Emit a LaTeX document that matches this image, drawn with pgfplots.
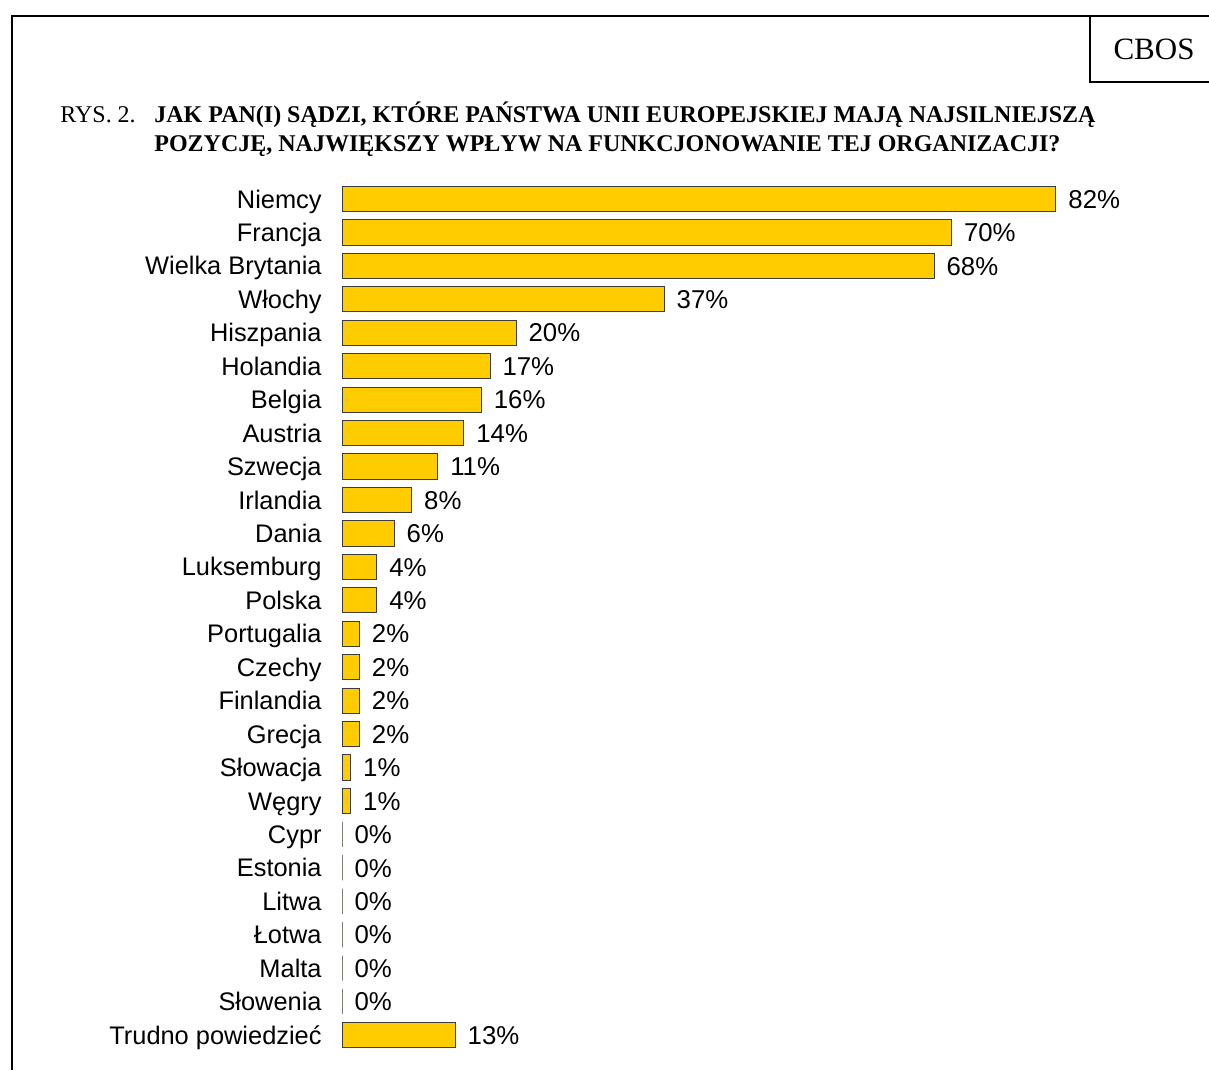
\documentclass[border=0pt]{standalone}
\usepackage{pgfplots}
\pgfplotsset{compat=1.18}
\usepackage{pgfplotstable}
\usepackage{fontspec}
\setmainfont{Liberation Serif}
\newfontfamily\arial{Liberation Sans}
\definecolor{barfill}{RGB}{255,204,0}
\definecolor{baredge}{RGB}{60,60,60}

\pgfplotstableread{
row val
0 82
1 70
2 68
3 37
4 20
5 17
6 16
7 14
8 11
9 8
10 6
11 4
12 4
13 2
14 2
15 2
16 2
17 1
18 1
19 0
20 0
21 0
22 0
23 0
24 0
25 13
}\shares

\begin{document}
\begin{tikzpicture}
  % page = 1209 x 1070 px at 2 px per pt
  \path[use as bounding box] (0,0) rectangle (604.5pt,-535pt);

  % frame and CBOS box
  \draw[line width=1pt] (5.85pt,-535pt) -- (5.85pt,-8.15pt) -- (604.5pt,-8.15pt);
  \draw[line width=1pt] (545pt,-8.15pt) -- (545pt,-40.85pt) -- (604.5pt,-40.85pt);
  \node[font=\fontsize{15.5}{18}\selectfont] at (577pt,-24.5pt) {CBOS};

  % title
  \node[anchor=base west, inner sep=0pt, font=\fontsize{12}{14}\selectfont] at (30pt,-61.5pt) {RYS. 2.};
  \node[anchor=base west, inner sep=0pt, font=\fontsize{12}{14}\selectfont\bfseries] at (77pt,-61.5pt)
    {JAK PAN(I) SĄDZI, KTÓRE PAŃSTWA UNII EUROPEJSKIEJ MAJĄ NAJSILNIEJSZĄ};
  \node[anchor=base west, inner sep=0pt, font=\fontsize{12}{14}\selectfont\bfseries] at (77pt,-75.5pt)
    {POZYCJĘ, NAJWIĘKSZY WPŁYW NA FUNKCJONOWANIE TEJ ORGANIZACJI?};

  \begin{axis}[
    at={(171pt,-91.14pt)}, anchor=north west,
    scale only axis,
    x=4.3535pt, y=16.72pt,
    xmin=0, xmax=90,
    ymin=-0.5, ymax=25.5,
    y dir=reverse,
    xbar, bar width=12.6pt,
    axis x line=none,
    axis y line=left,
    y axis line style={draw=none},
    major tick length=0pt,
    ytick={0,...,25},
    yticklabels={Niemcy, Francja, Wielka Brytania, Włochy, Hiszpania, Holandia,
      Belgia, Austria, Szwecja, Irlandia, Dania, Luksemburg, Polska, Portugalia,
      Czechy, Finlandia, Grecja, Słowacja, Węgry, Cypr, Estonia, Litwa, Łotwa,
      Malta, Słowenia, Trudno powiedzieć},
    yticklabel style={font=\arial\fontsize{12.7}{14}\selectfont, inner sep=0pt,
      text height=9.1pt, text depth=0pt, xshift=-10pt},
    point meta=x,
    nodes near coords={\pgfmathprintnumber[assume math mode=true]{\pgfplotspointmeta}\%},
    every node near coord/.append style={font=\arial\fontsize{12.9}{14}\selectfont,
      anchor=west, inner sep=0pt, text height=9.2pt, text depth=0pt, xshift=6pt},
    clip=false,
  ]
    \addplot[fill=barfill, draw=baredge, line width=0.5pt]
      table[x=val, y=row] {\shares};
  \end{axis}
\end{tikzpicture}
\end{document}
